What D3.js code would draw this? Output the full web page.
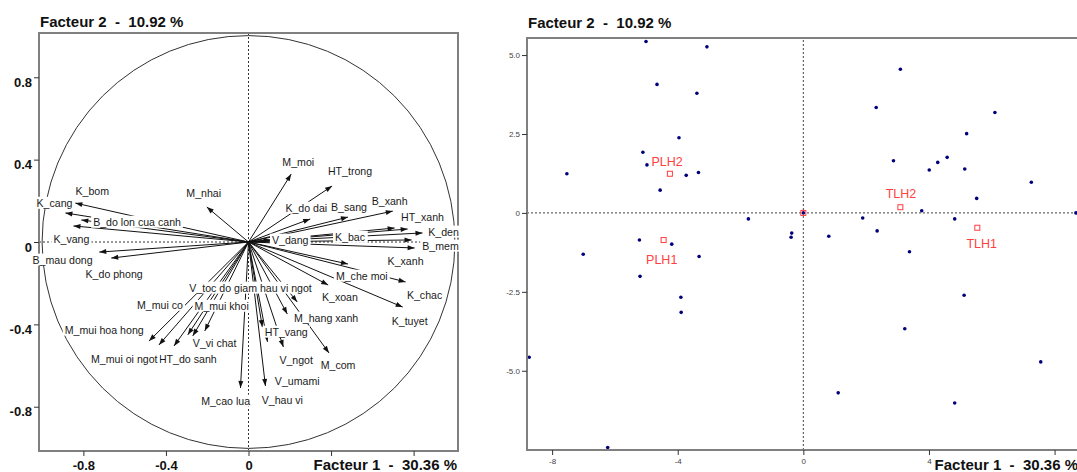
<!DOCTYPE html>
<html>
<head>
<meta charset="utf-8">
<script src="https://cdn.jsdelivr.net/npm/d3@7"></script>
<style>
body { margin: 0; background: #fff; }
svg { display: block; font-family: "Liberation Sans", Arial, sans-serif; }
</style>
</head>
<body>
<svg id="chart" width="1077" height="472"></svg>
<script>
// --- correlation circle: variables ---
var varNames = ["K_cang", "K_bom", "B_do lon cua canh", "K_vang", "B_mau dong", "K_do phong",
  "M_nhai", "M_moi", "HT_trong", "K_do dai", "B_sang", "B_xanh", "HT_xanh", "K_bac", "K_den",
  "K_xanh", "B_mem", "V_dang", "M_che moi", "K_chac", "K_tuyet", "K_xoan", "M_hang xanh",
  "V_toc do giam hau vi ngot", "HT_vang", "V_umami", "V_ngot", "V_hau vi", "M_cao lua", "M_com",
  "V_vi chat", "M_mui khoi", "M_mui co", "HT_do sanh", "M_mui oi ngot", "M_mui hoa hong"];
var varX = [-0.839, -0.887, -0.810, -0.848, -0.723, -0.665, -0.202, 0.207, 0.405, 0.299, 0.482, 0.699,
  0.771, 0.708, 0.843, 0.790, 0.805, 0.106, 0.482, 0.761, 0.747, 0.386, 0.236, 0.188, 0.067, 0.092,
  0.169, 0.082, -0.039, 0.390, -0.212, -0.270, -0.294, -0.361, -0.434, -0.482];
var varY = [0.189, 0.141, 0.107, 0.078, -0.049, -0.078, 0.170, 0.330, 0.272, 0.112, 0.121, 0.150,
  0.063, 0.068, 0.044, 0.010, -0.029, 0.010, -0.107, -0.194, -0.316, -0.209, -0.291, -0.350, -0.413,
  -0.485, -0.510, -0.699, -0.709, -0.539, -0.432, -0.456, -0.451, -0.505, -0.500, -0.481];
// where each label sits (same units)
var labelX = [-0.940, -0.757, -0.540, -0.858, -0.901, -0.651, -0.217, 0.241, 0.492, 0.280, 0.487, 0.684,
  0.843, 0.492, 0.945, 0.761, 0.930, 0.202, 0.549, 0.853, 0.781, 0.443, 0.376, 0.010, 0.183, 0.236,
  0.231, 0.164, -0.111, 0.434, -0.164, -0.130, -0.429, -0.294, -0.602, -0.699];
var labelY = [0.189, 0.248, 0.097, 0.015, -0.087, -0.155, 0.238, 0.388, 0.345, 0.165, 0.170, 0.199,
  0.121, 0.024, 0.049, -0.092, -0.019, 0.010, -0.165, -0.257, -0.383, -0.267, -0.369, -0.223, -0.437,
  -0.675, -0.573, -0.767, -0.772, -0.597, -0.490, -0.311, -0.306, -0.568, -0.568, -0.427];

// --- factor map: individuals ---
var indX = [-5.01, -3.07, -4.66, -3.39, -3.96, -5.11, -4.98, -7.53, -3.73, -3.34, -4.56, -1.75,
  -5.22, -4.19, -7.01, -3.32, -5.20, -3.90, -3.89, -8.73, -6.23,
  3.09, 2.32, 6.10, 5.20, 2.87, 4.58, 4.28, 4.01, 5.14, 7.26, 5.52, 3.77, 8.68, 1.89, 4.82,
  2.35, -0.37, -0.39, 0.81, 3.38, 5.12, 3.23, 7.56, 1.11, 4.82, 0];
var indY = [5.43, 5.26, 4.07, 3.79, 2.38, 1.92, 1.52, 1.24, 1.19, 1.28, 0.72, -0.19,
  -0.86, -0.99, -1.31, -1.38, -2.01, -2.67, -3.15, -4.57, -7.43,
  4.55, 3.34, 3.18, 2.51, 1.65, 1.76, 1.60, 1.36, 1.39, 0.97, 0.46, 0.07, 0.00, -0.16, -0.19,
  -0.57, -0.64, -0.77, -0.74, -1.23, -2.61, -3.67, -4.72, -5.70, -6.02, 0];

// group centres
var groupNames = ["PLH2", "PLH1", "TLH2", "TLH1", ""];
var groupX = [-4.25, -4.45, 3.09, 5.54, 0];
var groupY = [1.24, -0.86, 0.18, -0.47, 0];
var groupLabelX = [-4.34, -4.51, 3.11, 5.68, 0];
var groupLabelY = [1.64, -1.47, 0.62, -0.97, 0];

// axes
var circleTicks = [-0.8, -0.4, 0, 0.4, 0.8];
var circleTickLabels = ["-0.8", "-0.4", "0", "0.4", "0.8"];
var mapTicksX = [-8, -4, 0, 4, 8];
var mapTickLabelsX = ["-8", "-4", "0", "4", "8"];
var mapTicksY = [-5, -2.5, 0, 2.5, 5];
var mapTickLabelsY = ["-5.0", "-2.5", "0", "2.5", "5.0"];
var titleF1 = "Facteur 1  -  30.36 %";
var titleF2 = "Facteur 2  -  10.92 %";

var svg = d3.select("#chart");

// ================= left panel : correlation circle =================
var xL = d3.scaleLinear().domain([-1.015, 1.015]).range([39, 458]);
var yL = d3.scaleLinear().domain([-1.015, 1.015]).range([451, 33]);
var left = svg.append("g");

left.append("circle")
  .attr("cx", xL(0)).attr("cy", yL(0))
  .attr("r", xL(1) - xL(0))
  .attr("fill", "none").attr("stroke", "#333").attr("stroke-width", 1);

// dashed axes
left.append("line")
  .attr("x1", xL(-1.015)).attr("x2", xL(1.015)).attr("y1", yL(0)).attr("y2", yL(0))
  .attr("stroke", "#333").attr("stroke-dasharray", "2,2");
left.append("line")
  .attr("x1", xL(0)).attr("x2", xL(0)).attr("y1", yL(-1.015)).attr("y2", yL(1.015))
  .attr("stroke", "#333").attr("stroke-dasharray", "2,2");

// frame (labels go on top of it)
left.append("rect")
  .attr("x", 39).attr("y", 33).attr("width", 419).attr("height", 418)
  .attr("fill", "none").attr("stroke", "#808080").attr("stroke-width", 2);

// arrows
left.selectAll(".arr")
  .data(varNames)
  .enter().append("line")
  .attr("class", "arr")
  .attr("x1", xL(0)).attr("y1", yL(0))
  .attr("x2", function(d, i) { return xL(varX[i]); })
  .attr("y2", function(d, i) { return yL(varY[i]); })
  .attr("stroke", "#111").attr("stroke-width", 1);

left.selectAll(".head")
  .data(varNames)
  .enter().append("path")
  .attr("class", "head")
  .attr("fill", "#111")
  .attr("d", function(d, i) {
    var tx = xL(varX[i]), ty = yL(varY[i]);
    var a = Math.atan2(ty - yL(0), tx - xL(0));
    var L = 7, W = 2.5;
    var bx = tx - L * Math.cos(a), by = ty - L * Math.sin(a);
    return "M" + tx + "," + ty +
      "L" + (bx - W * Math.sin(a)) + "," + (by + W * Math.cos(a)) +
      "L" + (bx + W * Math.sin(a)) + "," + (by - W * Math.cos(a)) + "Z";
  });

// labels with white boxes
var labs = left.selectAll(".lab")
  .data(varNames)
  .enter().append("g")
  .attr("class", "lab");
labs.append("text")
  .attr("x", function(d, i) { return xL(labelX[i]); })
  .attr("y", function(d, i) { return yL(labelY[i]); })
  .attr("dy", "0.35em")
  .attr("text-anchor", "middle")
  .style("font-size", "10.6px")
  .attr("fill", "#1a1a1a")
  .text(function(d) { return d; });
labs.each(function() {
  var g = d3.select(this);
  var b = g.select("text").node().getBBox();
  g.insert("rect", "text")
    .attr("x", b.x - 2).attr("y", b.y)
    .attr("width", b.width + 4).attr("height", b.height)
    .attr("fill", "#fff");
});

var gLy = left.append("g")
  .attr("transform", "translate(39,0)")
  .call(d3.axisLeft(yL).tickValues(circleTicks).tickSize(5)
    .tickFormat(function(d, i) { return circleTickLabels[i]; }));
gLy.select(".domain").remove();
gLy.selectAll(".tick line").attr("stroke", "#333");
gLy.selectAll("text").attr("dy", "0.7em").attr("x", -7)
  .style("font-size", "13px").style("font-weight", "bold").attr("fill", "#111");

var gLx = left.append("g")
  .attr("transform", "translate(0,451)")
  .call(d3.axisBottom(xL).tickValues(circleTicks).tickSize(5)
    .tickFormat(function(d, i) { return circleTickLabels[i]; }));
gLx.select(".domain").remove();
gLx.selectAll(".tick line").attr("stroke", "#333");
gLx.selectAll("text").attr("y", 10)
  .style("font-size", "13px").style("font-weight", "bold").attr("fill", "#111");

// ================= right panel : factor map =================
var xR = d3.scaleLinear().domain([-8.80, 8.81]).range([527, 1080]);
var yR = d3.scaleLinear().domain([-7.51, 5.54]).range([450, 38]);
var right = svg.append("g");

right.append("line")
  .attr("x1", xR(-8.80)).attr("x2", xR(8.81)).attr("y1", yR(0)).attr("y2", yR(0))
  .attr("stroke", "#444").attr("stroke-dasharray", "2,2");
right.append("line")
  .attr("x1", xR(0)).attr("x2", xR(0)).attr("y1", yR(-7.51)).attr("y2", yR(5.54))
  .attr("stroke", "#444").attr("stroke-dasharray", "2,2");

right.selectAll(".ind")
  .data(indX)
  .enter().append("circle")
  .attr("class", "ind")
  .attr("cx", function(d) { return xR(d); })
  .attr("cy", function(d, i) { return yR(indY[i]); })
  .attr("r", 1.8)
  .attr("fill", "#00007a");

right.selectAll(".grp")
  .data(groupNames)
  .enter().append("rect")
  .attr("class", "grp")
  .attr("x", function(d, i) { return xR(groupX[i]) - 2.5; })
  .attr("y", function(d, i) { return yR(groupY[i]) - 2.5; })
  .attr("width", 5).attr("height", 5)
  .attr("fill", "none").attr("stroke", "#ff3b3b").attr("stroke-width", 1);

right.selectAll(".glab")
  .data(groupNames)
  .enter().append("text")
  .attr("class", "glab")
  .attr("x", function(d, i) { return xR(groupLabelX[i]); })
  .attr("y", function(d, i) { return yR(groupLabelY[i]); })
  .attr("dy", "0.35em")
  .attr("text-anchor", "middle")
  .style("font-size", "12.5px")
  .attr("fill", "#ff4040")
  .text(function(d) { return d; });

right.append("rect")
  .attr("x", 527).attr("y", 38).attr("width", 553).attr("height", 412)
  .attr("fill", "none").attr("stroke", "#808080").attr("stroke-width", 2);

var gRy = right.append("g")
  .attr("transform", "translate(527,0)")
  .call(d3.axisLeft(yR).tickValues(mapTicksY).tickSize(5)
    .tickFormat(function(d, i) { return mapTickLabelsY[i]; }));
gRy.select(".domain").remove();
gRy.selectAll(".tick line").attr("stroke", "#333");
gRy.selectAll("text").attr("x", -7).style("font-size", "8px").attr("fill", "#444");

var gRx = right.append("g")
  .attr("transform", "translate(0,450)")
  .call(d3.axisBottom(xR).tickValues(mapTicksX).tickSize(5)
    .tickFormat(function(d, i) { return mapTickLabelsX[i]; }));
gRx.select(".domain").remove();
gRx.selectAll(".tick line").attr("stroke", "#333");
gRx.selectAll("text").attr("y", 8).style("font-size", "8px").attr("fill", "#444");

// ================= titles =================
var titleBoxes = [];
function title(x, y, anchor, txt) {
  var g = svg.append("g");
  var t = g.append("text")
    .attr("x", x).attr("y", y)
    .attr("text-anchor", anchor)
    .style("font-size", "15px").style("font-weight", "bold")
    .style("white-space", "pre")
    .attr("fill", "#111")
    .text(txt);
  var b = t.node().getBBox();
  g.insert("rect", "text")
    .attr("x", b.x - 2).attr("y", b.y)
    .attr("width", b.width + 4).attr("height", b.height)
    .attr("fill", "#fff");
  titleBoxes.push(b);
}
title(40, 27, "start", titleF2);
title(528, 28, "start", titleF2);
title(457, 470, "end", titleF1);
title(1078, 470, "end", titleF1);

// tick labels hidden under an axis title are dropped, as in the original
svg.selectAll(".tick text").each(function() {
  var r = this.getBoundingClientRect();
  var hit = titleBoxes.some(function(b) {
    return r.right > b.x && r.left < b.x + b.width && r.bottom > b.y && r.top < b.y + b.height;
  });
  if (hit) d3.select(this).remove();
});
</script>
</body>
</html>
